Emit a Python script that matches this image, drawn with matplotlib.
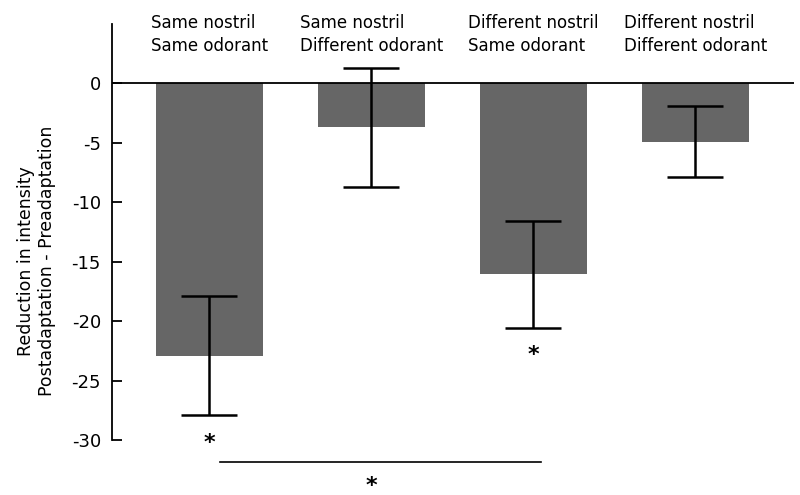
import matplotlib.pyplot as plt
import numpy as np

# data
conditions = ["Same nostril\nSame odorant", "Same nostril\nDifferent odorant",
              "Different nostril\nSame odorant", "Different nostril\nDifferent odorant"]
means = [-22.9, -3.7, -16.05, -4.9]
errors = [5.0, 5.0, 4.5, 3.0]
yticks = [0, -5, -10, -15, -20, -25, -30]

x = np.arange(len(conditions))

fig = plt.figure(figsize=(8, 4.95), dpi=100)
ax = fig.add_axes([0.14, 0.111, 0.8525, 0.8405])

ax.bar(x, means, width=0.66, color="#666666")
ax.errorbar(x, means, yerr=errors, fmt="none", ecolor="black",
            elinewidth=1.8, capsize=20, capthick=1.8)
ax.axhline(0, color="black", lw=1.3)

ax.set_xlim(-0.6, 3.61)
ax.set_ylim(-30, 5)
ax.set_yticks(yticks)
ax.set_yticklabels([str(v) for v in yticks])
ax.tick_params(axis="y", direction="in", length=7, width=1.3, labelsize=13, pad=8)
ax.set_xticks([])
for s in ["top", "right", "bottom"]:
    ax.spines[s].set_visible(False)
ax.spines["left"].set_linewidth(1.3)

ax.set_ylabel("Reduction in intensity\nPostadaptation - Preadaptation", fontsize=12.5)
ax.yaxis.set_label_coords(-0.082, 0.43)

# condition labels above the bars
for xi, lab in zip(x, conditions):
    ax.text(xi, 4.1, lab, ha="center", va="center", multialignment="left",
            fontsize=12, linespacing=1.35)

# significance marks
ax.text(0, -29.4, "*", ha="center", va="top", fontsize=16, fontweight="bold")
ax.text(2, -22.0, "*", ha="center", va="top", fontsize=16, fontweight="bold")
ax.plot([0.065, 2.05], [-31.85, -31.85], color="black", lw=1.2, clip_on=False)
ax.text(1.0, -33.0, "*", ha="center", va="top", fontsize=16, fontweight="bold",
        clip_on=False)

fig.savefig("out.png", dpi=100)
